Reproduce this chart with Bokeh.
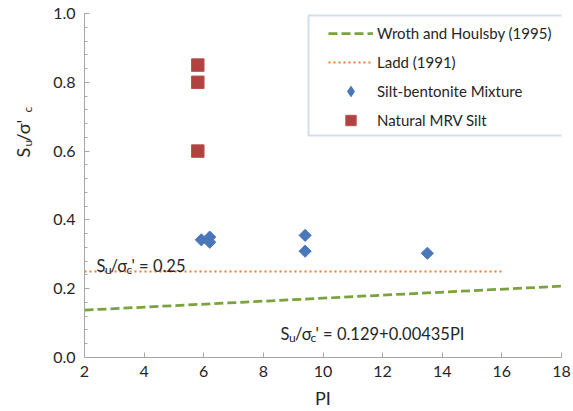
import math

from bokeh.embed import file_html
from bokeh.layouts import row
from bokeh.models import (BoxAnnotation, FixedTicker, Label, Legend, LegendItem,
                          NumeralTickFormatter, Range1d, SingleIntervalTicker)
from bokeh.plotting import figure
from bokeh.resources import INLINE

# Silt-bentonite mixture tests
mix_pi = [5.92, 6.2, 6.2, 9.4, 9.4, 13.5]
mix_ratio = [0.342, 0.350, 0.335, 0.355, 0.309, 0.303]

# Natural MRV silt tests
mrv_pi = [5.8, 5.8, 5.8]
mrv_ratio = [0.85, 0.80, 0.60]

# Wroth and Houlsby (1995): Su/sigma_c' = a + b * PI
wroth_a = 0.129
wroth_b = 0.00435
wroth_pi = [2, 18]
wroth_ratio = [wroth_a + wroth_b * v for v in wroth_pi]

# Ladd (1991): constant ratio
ladd_value = 0.25
ladd_pi = [2, 16]
ladd_ratio = [ladd_value, ladd_value]

x_ticks = [2, 4, 6, 8, 10, 12, 14, 16, 18]

FONT = "Lato"
TEXT = "#262626"
AXIS = "#a6a6a6"
BLUE = "#4a77b9"


def add_text(fig, pieces, angle=0.0):
    """pieces: (text, x, y, size) in screen units relative to the frame."""
    for txt, x, y, size in pieces:
        fig.add_layout(Label(x=x, y=y, x_units="screen", y_units="screen",
                             text=txt, angle=angle, text_font=FONT,
                             text_font_size=f"{size}px", text_color=TEXT,
                             text_align="left", text_baseline="alphabetic"))


# narrow strip holding the rotated y axis title
title_strip = figure(width=40, height=411, output_backend="svg",
                     toolbar_location=None, x_axis_type=None, y_axis_type=None,
                     x_range=Range1d(0, 1), y_range=Range1d(0, 1), min_border=0)
title_strip.outline_line_color = None
title_strip.background_fill_color = "white"
title_strip.border_fill_color = "white"
add_text(title_strip, [("S", 22, 200, 18), ("u", 27, 211, 12),
                       ("/σ'", 22, 216, 18), ("c", 27, 245, 12)],
         angle=math.pi / 2)

p = figure(width=533, height=411, output_backend="svg", toolbar_location=None,
           x_range=Range1d(2, 18), y_range=Range1d(0, 1),
           min_border_left=44, min_border_right=12, min_border_top=13,
           min_border_bottom=54)
p.outline_line_color = None
p.grid.visible = False
p.background_fill_color = "white"
p.border_fill_color = "white"

# axes
p.xaxis.ticker = FixedTicker(ticks=x_ticks)
p.yaxis.ticker = SingleIntervalTicker(interval=0.2, num_minor_ticks=5)
p.yaxis.formatter = NumeralTickFormatter(format="0.0")
for ax in (p.xaxis, p.yaxis):
    ax.axis_line_color = AXIS
    ax.major_tick_line_color = AXIS
    ax.minor_tick_line_color = AXIS
    ax.major_tick_out = 0
    ax.minor_tick_out = 0
    ax.major_label_text_font = FONT
    ax.major_label_text_font_size = "16px"
    ax.major_label_text_color = TEXT
p.xaxis.major_tick_in = 5
p.xaxis.minor_tick_line_color = None
p.yaxis.major_tick_in = 5
p.yaxis.minor_tick_in = 3
p.xaxis.major_label_standoff = 8
p.yaxis.major_label_standoff = 9
p.xaxis.axis_label = "PI"
p.xaxis.axis_label_text_font = FONT
p.xaxis.axis_label_text_font_size = "18px"
p.xaxis.axis_label_text_font_style = "normal"
p.xaxis.axis_label_text_color = TEXT
p.xaxis.axis_label_standoff = 7

# reference lines
wroth = p.line(wroth_pi, wroth_ratio, line_color="#7aa23e", line_width=2.75,
               line_dash="9 4")
ladd = p.line(ladd_pi, ladd_ratio, line_color="#ed7d31", line_width=2,
              line_dash="2 3")

# measured points (diamonds drawn as squares turned by 45 degrees)
p.scatter(mix_pi, mix_ratio, marker="square", size=8.6, angle=math.pi / 4,
          fill_color=BLUE, line_color=BLUE)
mrv = p.scatter(mrv_pi, mrv_ratio, marker="square", size=12.5,
                fill_color="#b0433f", line_color="#b65450")

# legend key for the mixture series (legend keys ignore marker angle);
# its single point is NaN so it only shows up in the legend
mix_key = p.scatter(x=[math.nan], y=[math.nan], marker="diamond",
                    fill_color=BLUE, line_color=BLUE)

# Ladd annotation
add_text(p, [("S", 12, 92, 16.5), ("u", 20.5, 88, 12), ("/σ", 26, 92, 16.5),
             ("c", 42, 88, 12), ("' = 0.25", 47, 92, 16.5)])

# Wroth and Houlsby annotation
add_text(p, [("S", 196, 24, 16.5), ("u", 204.5, 20, 12), ("/σ", 210.5, 24, 16.5),
             ("c", 226, 20, 12), ("' = 0.129+0.00435PI", 231, 24, 16.5)])

# legend frame
p.add_layout(BoxAnnotation(left=224, right=500, top=342, bottom=222,
                           left_units="screen", right_units="screen",
                           top_units="screen", bottom_units="screen",
                           fill_color="white", fill_alpha=1,
                           line_color="#6a8fc8", line_width=2))

legend = Legend(items=[LegendItem(label="Wroth and Houlsby (1995)", renderers=[wroth]),
                       LegendItem(label="Ladd (1991)", renderers=[ladd]),
                       LegendItem(label="Silt-bentonite Mixture", renderers=[mix_key]),
                       LegendItem(label="Natural MRV Silt", renderers=[mrv])],
                location=(244, 224), padding=0, spacing=3,
                glyph_width=45, glyph_height=26, label_standoff=4,
                label_text_font=FONT, label_text_font_size="15px",
                label_text_color=TEXT, background_fill_alpha=0,
                border_line_color=None)
p.add_layout(legend)

layout = row(title_strip, p, spacing=0)
open("out.html", "w").write(file_html(layout, INLINE))
